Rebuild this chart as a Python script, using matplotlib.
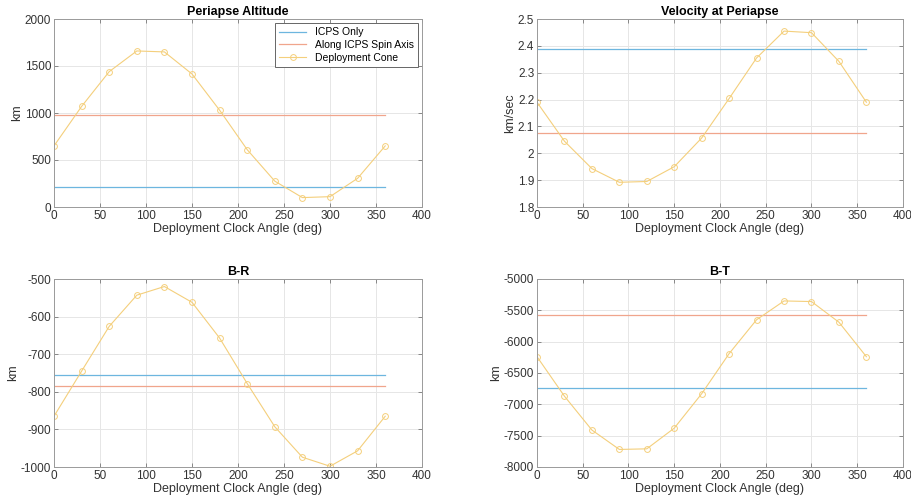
import numpy as np
import matplotlib.pyplot as plt

plt.rcParams['font.family'] = ['Liberation Sans', 'DejaVu Sans']
plt.rcParams['axes.unicode_minus'] = False

angle = [0, 30, 60, 90, 120, 150, 180, 210, 240, 270, 300, 330, 360]

# periapse altitude (km)
alt_cone = [650, 1070, 1440, 1660, 1650, 1415, 1030, 610, 275, 100, 110, 305, 650]
alt_icps = 215
alt_spin = 975

# velocity at periapse (km/sec)
vel_cone = [2.190, 2.045, 1.943, 1.892, 1.895, 1.950, 2.057, 2.204, 2.355, 2.455, 2.449, 2.342, 2.190]
vel_icps = 2.39
vel_spin = 2.076

# B-R (km)
br_cone = [-865, -745, -626, -543, -520, -562, -657, -778, -893, -974, -998, -957, -865]
br_icps = -755
br_spin = -784

# B-T (km)
bt_cone = [-6240, -6870, -7410, -7720, -7710, -7380, -6830, -6190, -5650, -5350, -5360, -5690, -6240]
bt_icps = -6740
bt_spin = -5570

c_blue = '#6db6df'
c_orange = '#f0a58c'
c_yellow = '#f4cf7c'

fig = plt.figure(figsize=(9.12, 5.03), dpi=100)
W, H = 912, 503
boxes = [(54, 19, 422, 207), (537, 19, 903, 207), (54, 279, 422, 467), (537, 279, 903, 467)]

panels = [
    ('Periapse Altitude', 'km', alt_cone, alt_icps, alt_spin, (0, 2000), np.arange(0, 2001, 500)),
    ('Velocity at Periapse', 'km/sec', vel_cone, vel_icps, vel_spin, (1.8, 2.5), np.arange(1.8, 2.51, 0.1)),
    ('B-R', 'km', br_cone, br_icps, br_spin, (-1000, -500), np.arange(-1000, -499, 100)),
    ('B-T', 'km', bt_cone, bt_icps, bt_spin, (-8000, -5000), np.arange(-8000, -4999, 500)),
]

for (x0, y0, x1, y1), (title, ylab, cone, icps, spin, ylim, yt) in zip(boxes, panels):
    ax = fig.add_axes([x0 / W, 1 - y1 / H, (x1 - x0) / W, (y1 - y0) / H])
    ax.plot([angle[0], angle[-1]], [icps, icps], color=c_blue, lw=0.9, label='ICPS Only')
    ax.plot([angle[0], angle[-1]], [spin, spin], color=c_orange, lw=0.9, label='Along ICPS Spin Axis')
    ax.plot(angle, cone, color=c_yellow, lw=0.8, marker='o', ms=4.2, mfc='none', mew=0.7,
            label='Deployment Cone')
    ax.set_xlim(0, 400)
    ax.set_ylim(*ylim)
    ax.set_xticks(np.arange(0, 401, 50))
    ax.set_yticks(yt)
    ax.set_yticklabels(['%g' % round(v, 1) for v in yt])
    ax.grid(True, color='#e6e6e6', lw=0.7)
    ax.set_axisbelow(True)
    for s in ax.spines.values():
        s.set_color('#9a9a9a')
        s.set_linewidth(0.7)
    ax.tick_params(direction='in', length=3, width=0.6, color='#777777', labelsize=8.5,
                   labelcolor='#333333', top=True, right=True, pad=2)
    ax.set_title(title, fontsize=9, fontweight='bold', pad=3)
    ax.set_xlabel('Deployment Clock Angle (deg)', fontsize=9, color='#333333', labelpad=1)
    ax.set_ylabel(ylab, fontsize=9, color='#333333', labelpad=1)
    if title == 'Periapse Altitude':
        leg = ax.legend(loc='upper right', fontsize=7.5, fancybox=False, framealpha=1,
                        borderaxespad=0.4, handlelength=2.6, labelspacing=0.25)
        leg.get_frame().set_edgecolor('#666666')
        leg.get_frame().set_linewidth(0.7)

fig.savefig('out.png', dpi=100)
